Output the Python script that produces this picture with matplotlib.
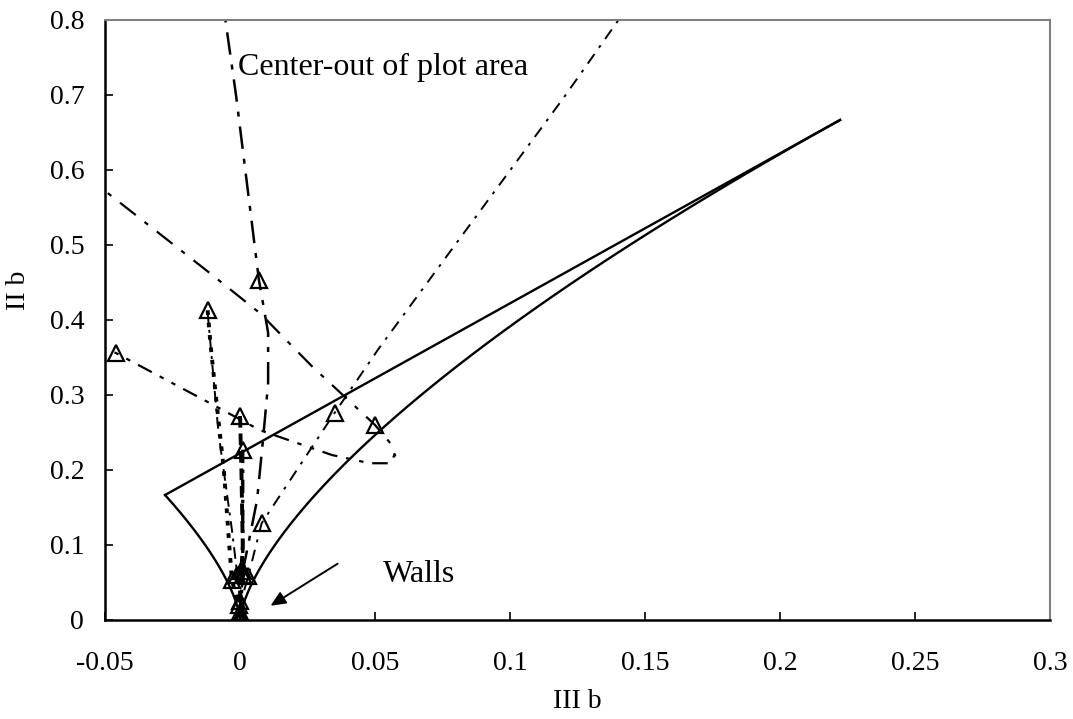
#!/usr/bin/env python3
"""Anisotropy invariant map (III b vs II b) with wall-to-centre trajectories."""

import numpy as np
import matplotlib
matplotlib.use("Agg")
import matplotlib.pyplot as plt

plt.rcParams["font.family"] = ["Liberation Serif", "DejaVu Serif"]

# Lumley triangle corners
vertex_1c = (2.0 / 9.0, 2.0 / 3.0)
vertex_2c = (-1.0 / 36.0, 1.0 / 6.0)

# trajectories (III b, II b)
s1_iii = [0.0, 0.0005, 0.001, 0.0026, 0.0063, 0.0085, 0.0104, 0.0104, 0.007, -0.0015, -0.007]
s1_ii = [0.0, 0.03, 0.065, 0.093, 0.16, 0.24, 0.316, 0.383, 0.453, 0.70, 0.84]
s1_marks = [0, 2, 8]

s2_iii = [0.0, 0.0008, 0.003, 0.008, 0.035, 0.051, 0.079, 0.12, 0.148]
s2_ii = [0.0, 0.03, 0.058, 0.129, 0.276, 0.36, 0.497, 0.697, 0.84]
s2_marks = [0, 2, 3, 4]

s3_iii = [-0.058, -0.05, -0.011, 0.0074, 0.0196, 0.027, 0.05, 0.0556, 0.0575]
s3_ii = [0.595, 0.572, 0.462, 0.409, 0.364, 0.337, 0.26, 0.236, 0.218]
s3_marks = [6]

s4_iii = [-0.055, -0.046, -0.0085, 0.0074, 0.034, 0.048, 0.0556, 0.0575]
s4_ii = [0.368, 0.356, 0.284, 0.253, 0.22, 0.209, 0.209, 0.222]
s4_marks = [1]

s5_iii = [-0.012, -0.011, -0.009, -0.006, -0.004, -0.003, -0.0005, 0.0]
s5_ii = [0.413, 0.37, 0.30, 0.20, 0.10, 0.053, 0.02, 0.0]
s5_marks = [0, 5, 6]

s6_iii = [-0.012, -0.0105, -0.008, -0.003, -0.001, 0.0, 0.0]
s6_ii = [0.41, 0.35, 0.25, 0.12, 0.06, 0.025, 0.0]
s6_marks = [4]

s7_iii = [0.0, 0.0005, 0.001, 0.0005, 0.0, 0.0]
s7_ii = [0.272, 0.2, 0.1, 0.065, 0.025, 0.005]
s7_marks = [0, 3, 4, 5]

s8_iii = [0.001, 0.001, 0.001, 0.0, 0.0]
s8_ii = [0.227, 0.14, 0.06, 0.01, 0.0]
s8_marks = [0, 2, 3, 4]

series = [
    (s1_iii, s1_ii, s1_marks, (0, (9, 4, 2, 4)), 1.8),
    (s2_iii, s2_ii, s2_marks, (0, (6, 4, 1.5, 4)), 1.4),
    (s3_iii, s3_ii, s3_marks, (0, (9, 5, 2, 5)), 1.6),
    (s4_iii, s4_ii, s4_marks, (0, (7, 4, 2, 4, 2, 4)), 1.6),
    (s5_iii, s5_ii, s5_marks, (0, (1.2, 2.0)), 2.8),
    (s6_iii, s6_ii, s6_marks, (0, (6, 3, 1.5, 3)), 1.4),
    (s7_iii, s7_ii, s7_marks, (0, (3, 1.5)), 2.8),
    (s8_iii, s8_ii, s8_marks, (0, (4, 2, 1, 2)), 2.4),
]

fig = plt.figure(figsize=(10.73, 7.19), dpi=100)
ax = fig.add_axes([0.0979, 0.1377, 0.8807, 0.8345])

# triangle boundaries
a_pos = np.linspace(0.0, 1.0 / 3.0, 200)
a_neg = np.linspace(0.0, -1.0 / 6.0, 200)
ax.plot(6 * a_pos ** 3, 6 * a_pos ** 2, color="black", lw=1.7)
ax.plot(6 * a_neg ** 3, 6 * a_neg ** 2, color="black", lw=1.7)
ax.plot([vertex_2c[0], vertex_1c[0]], [vertex_2c[1], vertex_1c[1]], color="black", lw=1.7)

for x, y, marks, style, lw in series:
    ax.plot(x, y, color="black", linestyle=style, lw=lw, marker="^", markevery=marks,
            markersize=11, markerfacecolor="none", markeredgecolor="black", markeredgewidth=1.6)

ax.text(-0.0007, 0.737, "Center-out of plot area", fontsize=23, va="center", ha="left")
ax.text(0.053, 0.06, "Walls", fontsize=23, va="center", ha="left")
ax.annotate("", xy=(0.0104, 0.017), xytext=(0.037, 0.077),
            arrowprops=dict(arrowstyle="-|>,head_length=0.9,head_width=0.4", color="black", lw=1.4))

ax.set_xlim(-0.05, 0.3)
ax.set_ylim(0.0, 0.8)
ax.set_xticks(np.arange(-0.05, 0.301, 0.05))
ax.set_xticklabels(["-0.05", "0", "0.05", "0.1", "0.15", "0.2", "0.25", "0.3"])
ax.set_yticks(np.arange(0.0, 0.801, 0.1))
ax.set_yticklabels(["0", "0.1", "0.2", "0.3", "0.4", "0.5", "0.6", "0.7", "0.8"])
ax.tick_params(direction="in", length=6, width=1.2, labelsize=20)
ax.tick_params(axis="x", pad=22)
ax.tick_params(axis="y", pad=15)
ax.set_xlabel("III b", fontsize=20)
ax.set_ylabel("II b", fontsize=20)
ax.xaxis.set_label_coords(0.5, -0.115)
ax.yaxis.set_label_coords(-0.078, 0.55)

for side in ("left", "bottom"):
    ax.spines[side].set_linewidth(1.8)
    ax.spines[side].set_color("black")
for side in ("top", "right"):
    ax.spines[side].set_linewidth(1.5)
    ax.spines[side].set_color("#808080")

fig.savefig("out.png", dpi=100)
